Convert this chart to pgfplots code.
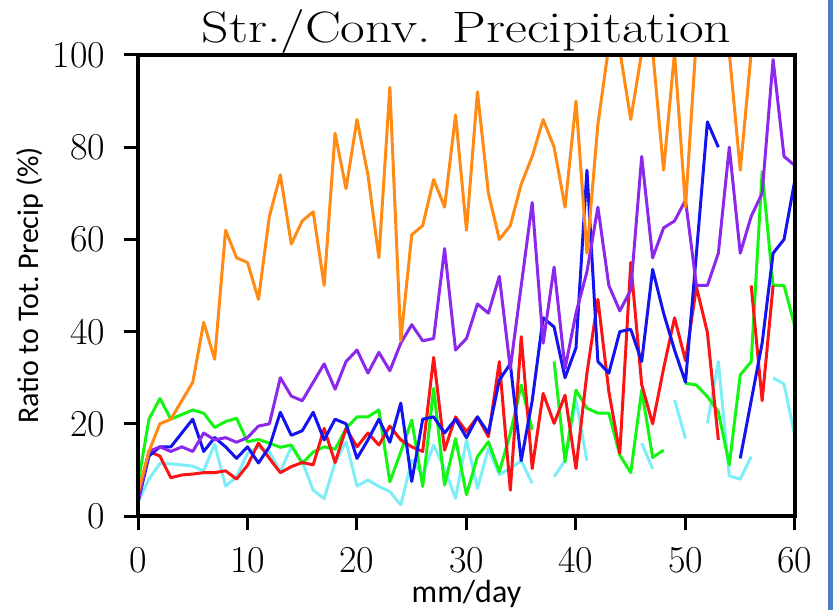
\documentclass[border=0pt]{standalone}
\usepackage{graphicx}
\usepackage{pgfplots}
\pgfplotsset{compat=1.18}
\usepackage{pgfplotstable}
\usepackage{fontspec}
\newfontfamily\carlito{Carlito}
\definecolor{corange}{RGB}{255,138,20}
\definecolor{cpurple}{RGB}{140,40,235}
\definecolor{cblue}{RGB}{20,20,240}
\definecolor{cred}{RGB}{250,20,20}
\definecolor{cgreen}{RGB}{20,245,20}
\definecolor{ccyan}{RGB}{125,238,248}
\definecolor{stripblue}{RGB}{76,128,196}

\pgfplotstableread{
x orange purple blue red green cyan
0 5 3 3 4 7 3
1 14 14 13 14 21 8
2 20 15 15 13 25.5 11.4
3 21 14 15 8.3 21 11.3
4 25 15 18 8.9 22 11.1
5 29 14 21 9.1 23 10.8
6 42 18 14 9.4 22.3 9.8
7 34 16.5 17 9.4 19.2 15.6
8 62 17 15 9.8 20.5 6.5
9 56 16 12.5 8 21.2 8.5
10 55 17 15 11 16.1 13.6
11 47 19.5 11.5 15.8 16.6 15
12 65 20 15 12.5 15.8 13.9
13 74 30 22.5 9.4 14.9 9.6
14 59 26 17.5 10.7 15.4 15
15 64 25 18.5 11.6 11.4 11.8
16 66 29 22.5 11.1 13.9 5.6
17 50 33 16.5 19 15 3.8
18 83 27.5 21 11.6 14.5 11.6
19 71 33.5 20 19 19 16.1
20 86 36 12.5 15 21.5 6.5
21 74 31 16.5 18 21.5 7.8
22 56 35.5 21 15.4 23 6.4
23 93 31.5 16 19.5 7.4 5.3
24 38 37.5 24.5 16.5 13.9 2.4
25 61 41.5 7.5 15 20.8 12.1
26 63 38 21 14 6.4 8.9
27 73 38.5 21.5 34.4 27.7 15.4
28 67 58 18 14.3 6.7 10.3
29 87 36 21 21.5 16.8 3.8
30 62 38.5 17 18.3 4.6 16.5
31 92 46 21.5 21.5 12.9 6
32 70 44 18 17.2 16.1 14.6
33 60 52 29.5 33.5 9.6 9
34 63 32 33 5.6 17.9 10.3
35 72 50 12 38.9 28.4 12
36 78 68 25 10.3 18.7 7.1
37 86 37.5 43 26.6 nan nan
38 80 54 41 20.1 33.5 8.5
39 67 32 30 26.2 11.8 12
40 90 44 36.5 10.3 27.3 25.2
41 57 53 75 31 23.4 12
42 85 67 33.5 47 22.3 nan
43 102 50 31 27 22.3 nan
44 101 44.5 40 13.6 13.2 nan
45 86 49 40.5 55 9.4 nan
46 100.5 78 33.5 28.5 27.3 15.8
47 101 56 53.5 20 12.7 10.2
48 75 62.5 44 32 14.3 nan
49 100.5 64 36 43 nan 25.2
50 67 68.5 29 33.7 28.8 16.8
51 104 50 57 49.7 28.4 nan
52 110 50 85.5 39.8 25.9 20.1
53 110 57 80 16.5 22.6 33.5
54 100.5 80 nan nan 11.1 8.7
55 75 57 12.5 nan 30.6 8
56 100.5 65 25 50 33.5 12.9
57 110 70 37.5 25 74.7 nan
58 110 99 57 50 50 30
59 110 78 60 nan 50 28.6
60 110 76 73 nan 41 17.2
}\datatable

\begin{document}
\begin{tikzpicture}
\path[use as bounding box] (-69pt,-47pt) rectangle (347.5pt,258pt);
\fill[stripblue] (345pt,-47pt) rectangle (347.5pt,258pt);
\begin{axis}[
  at={(0,0)}, anchor=south west,
  scale only axis, width=328.5pt, height=230.5pt,
  xmin=0, xmax=60, ymin=0, ymax=100,
  xtick={0,10,...,60}, ytick={0,20,...,100},
  tick align=outside, tick pos=left,
  major tick length=7pt,
  axis on top=true,
  axis line style={line width=1.6pt},
  every tick/.style={line width=1.5pt, black},
  /pgf/number format/assume math mode=true,
  tick label style={font=\fontsize{19}{22}\selectfont},
  xticklabel style={yshift=-5pt},
  yticklabel style={xshift=-6pt},
  title={\scalebox{1.22}[1]{Str./Conv. Precipitation}},
  title style={at={(axis description cs:0.5,1.026)}, anchor=center, font=\fontsize{22}{26}\selectfont},
  xlabel={mm/day},
  xlabel style={at={(axis description cs:0.5,-0.17)}, anchor=center, font=\carlito\fontsize{16}{19}\selectfont},
  ylabel={Ratio to Tot.\ Precip (\%)},
  ylabel style={at={(axis description cs:-0.1644,0.5)}, anchor=center, font=\carlito\fontsize{15}{18}\selectfont},
  unbounded coords=jump,
  every axis plot/.append style={line width=1.5pt, line join=round},
]
\addplot[ccyan] table[x=x,y=cyan] {\datatable};
\addplot[cgreen] table[x=x,y=green] {\datatable};
\addplot[cred] table[x=x,y=red] {\datatable};
\addplot[cblue] table[x=x,y=blue] {\datatable};
\addplot[cpurple] table[x=x,y=purple] {\datatable};
\addplot[corange] table[x=x,y=orange] {\datatable};
\end{axis}
\end{tikzpicture}
\end{document}
